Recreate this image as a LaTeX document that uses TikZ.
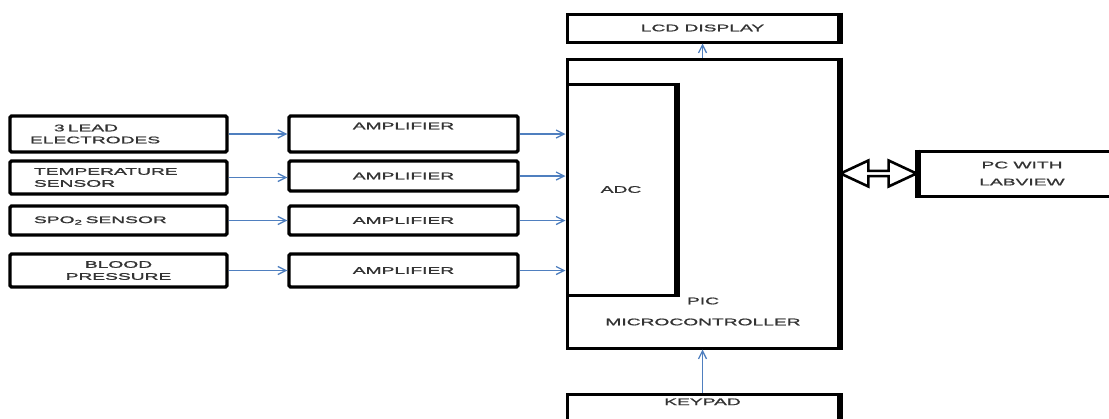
\documentclass[tikz,border=0pt]{standalone}
\usepackage{fontspec}
\setmainfont{Liberation Sans}[FakeStretch=2.0,FakeBold=1.4]
\usepackage{tikz}
\usetikzlibrary{arrows.meta,positioning,shapes.arrows,calc}
\usepackage{xcolor}
\definecolor{linkblue}{HTML}{4F7FBF}
\definecolor{labelgray}{HTML}{333333}

\begin{document}
\begin{tikzpicture}[
  x=1pt, y=-1pt,
  font=\fontsize{9.6}{12}\selectfont,
  >={Straight Barb[length=8pt,width=8pt]},
  inbox/.style={
    draw=black,
    fill=white,
    line width=3.4pt,
    rounded corners=1.5pt,
    text=labelgray,
    inner sep=0pt
  },
  mainbox/.style={
    draw=black,
    fill=white,
    line width=3pt,
    text=labelgray,
    inner sep=0pt
  },
  heavyedge/.style={line width=6pt, line cap=butt},
  sensorbox/.style={
    inbox,
    minimum width=217pt,
    text width=177pt,
    align=left
  },
  ampbox/.style={
    inbox,
    minimum width=229pt,
    align=center
  },
  link/.style={->, draw=linkblue, line width=1.3pt}
]
  \useasboundingbox (0,0) rectangle (1109,418);

  % --- SENSORS ---
  \node[sensorbox, minimum height=36pt] (s1) at (118.5,134) {\hspace*{24pt}3 LEAD\\ELECTRODES};
  \node[sensorbox, minimum height=33pt] (s2) at (118.5,177.5) {\hspace*{4pt}TEMPERATURE\\\hspace*{4pt}SENSOR};
  \node[sensorbox, minimum height=29pt] (s3) at (118.5,220.5) {\hspace*{4pt}SPO\textsubscript{2} SENSOR};
  \node[sensorbox, minimum height=33pt, align=center] (s4) at (118.5,270.5) {BLOOD\\PRESSURE};

  % --- AMPLIFIERS ---
  \node[ampbox, minimum height=36pt, text depth=16pt] (a1) at (403.5,134) {AMPLIFIER};
  \node[ampbox, minimum height=30pt] (a2) at (403.5,176) {AMPLIFIER};
  \node[ampbox, minimum height=29pt] (a3) at (403.5,220.5) {AMPLIFIER};
  \node[ampbox, minimum height=33pt] (a4) at (403.5,270.5) {AMPLIFIER};

  % --- MICROCONTROLLER BLOCK ---
  \node[mainbox, minimum width=271pt, minimum height=289pt] (pic) at (702.5,203.5) {};
  \node[mainbox, minimum width=108pt, minimum height=211pt] (adc) at (621,189.5) {ADC};
  \node[text=labelgray, align=center] (piclabel) at (703,311.5) {PIC\\[9pt]MICROCONTROLLER};

  \node[mainbox, minimum width=271pt, minimum height=28pt] (lcd) at (702.5,28) {LCD DISPLAY};
  \node[mainbox, minimum width=271pt, anchor=north, inner ysep=4pt, text depth=28pt] (keypad) at (702.5,393) {KEYPAD};
  \node[mainbox, minimum width=206pt, minimum height=45pt, align=center] (pc) at (1022,173.5) {PC WITH\\[5pt]LABVIEW};

  % heavy right-hand edges
  \foreach \n in {lcd,pic,adc,keypad} {
    \draw[heavyedge] (\n.north east) -- (\n.south east);
  }
  \draw[heavyedge, line width=4.5pt] (pc.north west) -- (pc.south west);

  % --- CONNECTIONS ---
  \foreach \i in {1,...,4} {
    \draw[link] (s\i.east) -- (a\i.west |- s\i.east);
    \draw[link] (a\i.east) -- (adc.west |- a\i.east);
  }
  \draw[link] (pic.north) -- (lcd.south);
  \draw[link] (keypad.north) -- (pic.south);

  % Bidirectional PC link
  \node[double arrow, draw=black, fill=white, line width=2.6pt, inner sep=0pt,
        minimum height=76pt, minimum width=26pt,
        double arrow head extend=5pt, double arrow tip angle=50]
    (usb) at ($(pic.east |- pc.west)!0.5!(pc.west)$) {};

\end{tikzpicture}
\end{document}
